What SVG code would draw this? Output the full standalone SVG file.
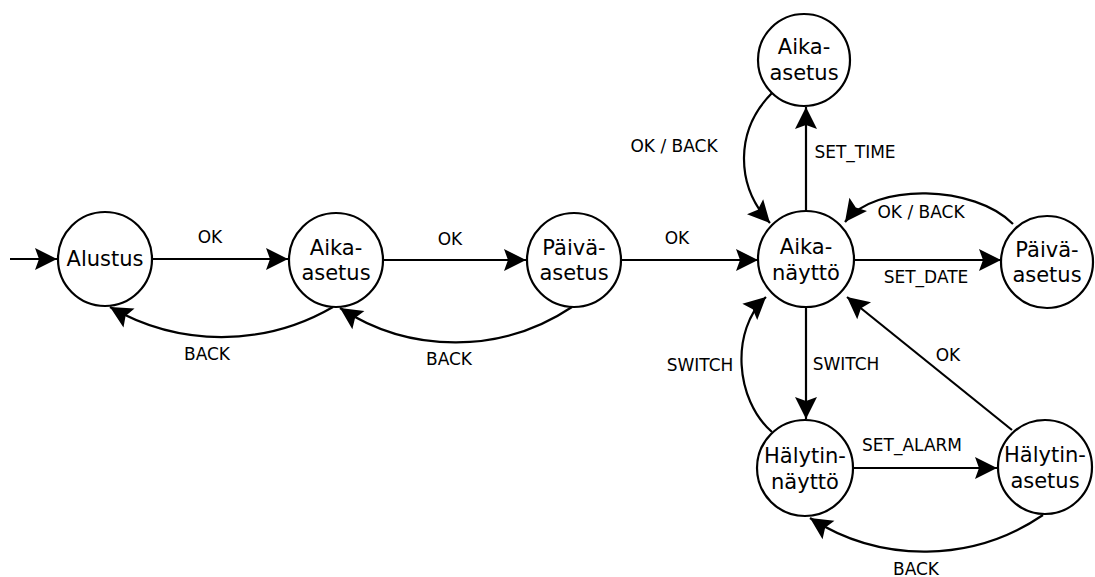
<svg xmlns="http://www.w3.org/2000/svg" width="1095" height="577" viewBox="0 0 1095 577">
  <style>
    .state circle { fill: #ffffff; stroke: #000000; stroke-width: 2.2; }
    .state text { font-family: "DejaVu Sans", "Liberation Sans", sans-serif; font-size: 21px; fill: #000000; text-anchor: middle; }
    .edge { fill: none; stroke: #000000; stroke-width: 2.2; marker-end: url(#arrow); }
    .label { font-family: "DejaVu Sans", "Liberation Sans", sans-serif; font-size: 17px; fill: #000000; text-anchor: middle; }
  </style>
  <defs>
    <marker id="arrow" viewBox="-24 -12 26 24" refX="0" refY="0" markerWidth="26" markerHeight="24" markerUnits="userSpaceOnUse" orient="auto">
      <path d="M 0 0 L -22 -11 L -18 0 L -22 11 Z" fill="#000000"/>
    </marker>
  </defs>

  <!-- transitions -->
  <g id="connectors">
    <path class="edge" d="M 10 259 L 57 259"/>
    <path class="edge" d="M 152 259 L 288 259"/>
    <path class="edge" d="M 333 307 A 222 222 0 0 1 110 307"/>
    <path class="edge" d="M 383 260 L 526 260"/>
    <path class="edge" d="M 572 307 A 210 210 0 0 1 340 308"/>
    <path class="edge" d="M 621 260 L 758 260"/>
    <path class="edge" d="M 806 211 L 806 107"/>
    <path class="edge" d="M 772 93 C 735 130 735 185 770 223"/>
    <path class="edge" d="M 1013 224 C 975 185 875 182 845 222"/>
    <path class="edge" d="M 854 260 L 1001 260"/>
    <path class="edge" d="M 806 307 L 806 419"/>
    <path class="edge" d="M 772 432 C 735 400 730 330 766 297"/>
    <path class="edge" d="M 1012 430 L 847 297"/>
    <path class="edge" d="M 853 468 L 997 468"/>
    <path class="edge" d="M 1043 515 A 211 211 0 0 1 810 518"/>

    <text class="label" x="210" y="243">OK</text>
    <text class="label" x="207" y="360">BACK</text>
    <text class="label" x="450" y="245">OK</text>
    <text class="label" x="449" y="365">BACK</text>
    <text class="label" x="677" y="244">OK</text>
    <text class="label" x="674" y="152">OK / BACK</text>
    <text class="label" x="855" y="158">SET_TIME</text>
    <text class="label" x="921" y="218">OK / BACK</text>
    <text class="label" x="926" y="283">SET_DATE</text>
    <text class="label" x="700" y="371">SWITCH</text>
    <text class="label" x="846" y="370">SWITCH</text>
    <text class="label" x="948" y="361">OK</text>
    <text class="label" x="912" y="451">SET_ALARM</text>
    <text class="label" x="916" y="575">BACK</text>
  </g>

  <!-- states -->
  <g id="alustus" class="state">
    <circle cx="105" cy="259" r="47"/>
    <text x="105" y="266">Alustus</text>
  </g>
  <g id="aika-asetus-1" class="state">
    <circle cx="336" cy="260" r="47"/>
    <text x="336" y="255">Aika-</text>
    <text x="336" y="280">asetus</text>
  </g>
  <g id="paiva-asetus-1" class="state">
    <circle cx="574" cy="260" r="47"/>
    <text x="574" y="255">Päivä-</text>
    <text x="574" y="280">asetus</text>
  </g>
  <g id="aika-naytto" class="state">
    <circle cx="806" cy="259" r="48"/>
    <text x="806" y="254">Aika-</text>
    <text x="806" y="280">näyttö</text>
  </g>
  <g id="aika-asetus-2" class="state">
    <circle cx="804" cy="60" r="46"/>
    <text x="804" y="54">Aika-</text>
    <text x="804" y="80">asetus</text>
  </g>
  <g id="paiva-asetus-2" class="state">
    <circle cx="1047" cy="262" r="46"/>
    <text x="1047" y="257">Päivä-</text>
    <text x="1047" y="282">asetus</text>
  </g>
  <g id="halytin-naytto" class="state">
    <circle cx="805" cy="468" r="48"/>
    <text x="805" y="463">Hälytin-</text>
    <text x="805" y="489">näyttö</text>
  </g>
  <g id="halytin-asetus" class="state">
    <circle cx="1045" cy="467" r="47"/>
    <text x="1045" y="462">Hälytin-</text>
    <text x="1045" y="488">asetus</text>
  </g>
</svg>
